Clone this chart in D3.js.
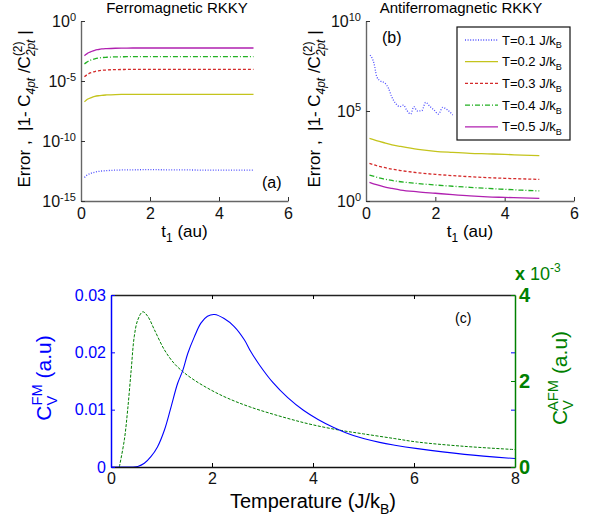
<!DOCTYPE html>
<html>
<head>
<meta charset="utf-8">
<script src="https://cdn.jsdelivr.net/npm/d3@7"></script>
<style>
  body { margin: 0; background: #fff; }
  svg text { font-family: "Liberation Sans", Arial, sans-serif; white-space: pre; }
</style>
</head>
<body>
<svg id="fig" width="595" height="525"></svg>
<script>
// ---- panel (a): ferromagnetic RKKY, log10 of the error ----
const tFerro = [0.1, 0.15, 0.2, 0.3, 0.4, 0.5, 0.6, 0.75, 1, 1.25, 1.5, 2, 2.5, 3, 3.5, 4, 4.5, 5];
const ferroT01 = [-13.04, -12.9, -12.8, -12.68, -12.6, -12.54, -12.5, -12.47, -12.43, -12.41, -12.4, -12.39, -12.4, -12.41, -12.42, -12.42, -12.42, -12.42];
const ferroT02 = [-6.73, -6.6, -6.5, -6.38, -6.29, -6.23, -6.19, -6.16, -6.13, -6.12, -6.11, -6.11, -6.11, -6.11, -6.11, -6.11, -6.11, -6.11];
const ferroT03 = [-4.65, -4.53, -4.43, -4.3, -4.21, -4.15, -4.11, -4.08, -4.05, -4.04, -4.03, -4.03, -4.03, -4.03, -4.03, -4.03, -4.03, -4.03];
const ferroT04 = [-3.59, -3.47, -3.37, -3.24, -3.15, -3.09, -3.05, -3.02, -2.99, -2.98, -2.97, -2.97, -2.97, -2.97, -2.97, -2.97, -2.97, -2.97];
const ferroT05 = [-2.9, -2.78, -2.67, -2.54, -2.44, -2.38, -2.33, -2.3, -2.27, -2.26, -2.25, -2.25, -2.25, -2.25, -2.25, -2.25, -2.25, -2.25];

// ---- panel (b): antiferromagnetic RKKY, log10 of the error ----
const tAnti = [0.1, 0.3, 0.5, 0.75, 1, 1.5, 2, 2.5, 3, 3.5, 4, 4.5, 5];
const tAntiT01 = [0.12, 0.23, 0.31, 0.4, 0.55, 0.65, 0.74, 0.87, 0.98, 1.08, 1.17, 1.29, 1.38, 1.48, 1.61, 1.72, 1.85, 1.96, 2.09, 2.21, 2.35, 2.5];
const antiT01 = [8.11, 7.65, 6.91, 6.69, 6.54, 6.26, 5.8, 5.39, 5.24, 5.33, 5.06, 4.83, 5.24, 5.0, 5.02, 5.48, 5.24, 5.06, 4.83, 5.2, 5.06, 4.78];
const antiT02 = [3.48, 3.36, 3.25, 3.12, 3.03, 2.87, 2.76, 2.7, 2.65, 2.62, 2.59, 2.55, 2.52];
const antiT03 = [2.09, 1.97, 1.87, 1.77, 1.69, 1.57, 1.48, 1.41, 1.35, 1.3, 1.26, 1.23, 1.2];
const antiT04 = [1.44, 1.33, 1.23, 1.14, 1.07, 0.97, 0.89, 0.82, 0.76, 0.7, 0.65, 0.6, 0.56];
const antiT05 = [1.04, 0.91, 0.8, 0.7, 0.61, 0.51, 0.43, 0.35, 0.28, 0.23, 0.2, 0.17, 0.15];

const legendLabels = ["0.1", "0.2", "0.3", "0.4", "0.5"];
const timeTicks = [0, 2, 4, 6];

// ---- panel (c): specific heat ----
const tempFM = [0, 0.4, 0.53, 0.66, 0.79, 0.92, 1.06, 1.19, 1.32, 1.42, 1.52, 1.65, 1.78, 1.91, 2.05, 2.24, 2.44, 2.64, 2.77, 2.94, 3.2, 3.5, 3.81, 4.1, 4.41, 4.8, 5.32, 5.62, 6.07, 7.0, 8.0];
const cvFM = [0, 0, 0.0001, 0.00065, 0.0018, 0.0035, 0.0065, 0.0105, 0.0146, 0.0168, 0.0198, 0.0227, 0.0251, 0.0263, 0.0266, 0.0259, 0.0245, 0.0222, 0.0201, 0.0178, 0.0148, 0.0121, 0.0099, 0.0083, 0.0069, 0.0055, 0.0043, 0.0038, 0.0032, 0.0022, 0.00147];
const tempAFM = [0.165, 0.264, 0.33, 0.4, 0.46, 0.53, 0.63, 0.73, 0.86, 1.06, 1.25, 1.42, 1.65, 1.98, 2.31, 2.77, 3.5, 4.0, 4.56, 5.0, 5.62, 6.07, 7.0, 8.0];
const cvAFM = [0, 0.63, 1.33, 2.26, 3.03, 3.42, 3.61, 3.5, 3.19, 2.72, 2.41, 2.22, 2.02, 1.79, 1.6, 1.39, 1.13, 0.98, 0.85, 0.77, 0.66, 0.58, 0.48, 0.405]; // x 1e-3
const tempTicks = [0, 2, 4, 6, 8];
const cvFMTicks = [0, 0.01, 0.02, 0.03];
const cvAFMTicks = [0, 2, 4];

const colors = ["#5050ff", "#c4c41c", "#d42a2a", "#22b022", "#b020b0"];
const dashes = ["1,1.6", null, "3,2", "5,2,1,2", null];

const svg = d3.select("#fig");

// add a run of tspans: [text, "n" | "sub" | "sup", {italic, stack}]
// stack = draw under/over the previous piece instead of after it
function rich(textSel, parts, size) {
  let shift = 0, prevLen = 0, carry = 0;
  parts.forEach(([s, kind, extra]) => {
    extra = extra || {};
    const target = kind === "sub" ? 0.3 * size : kind === "sup" ? -0.45 * size : 0;
    const ts = textSel.append("tspan").attr("dy", target - shift).text(s);
    if (kind !== "n") ts.style("font-size", (0.7 * size) + "px");
    if (extra.italic) ts.style("font-style", "italic");
    const len = ts.node().getComputedTextLength();
    if (extra.stack) {
      ts.attr("dx", -prevLen);
      carry = Math.max(0, prevLen - len);
    } else {
      if (carry) ts.attr("dx", carry);
      carry = 0;
    }
    prevLen = len;
    shift = target;
  });
}

function errorPanel(p) {
  const x = d3.scaleLinear().domain([0, 6]).range([p.left, p.right]);
  const y = d3.scaleLog().domain(p.yDomain).range([p.bottom, p.top]);

  const xAxis = svg.append("g").attr("transform", `translate(0,${p.bottom})`)
    .call(d3.axisBottom(x).tickValues(timeTicks).tickFormat(d3.format("d"))
      .tickSizeInner(-4).tickSizeOuter(0).tickPadding(7));
  const yAxis = svg.append("g").attr("transform", `translate(${p.left},0)`)
    .call(d3.axisLeft(y).tickValues(p.yTicks).tickSizeInner(-4).tickSizeOuter(0).tickPadding(5));
  [xAxis, yAxis].forEach(g => {
    g.select(".domain").attr("stroke", "#666").attr("stroke-width", 1.4);
    g.selectAll(".tick line").attr("stroke", "#333");
    g.selectAll("text").style("font-size", "16px").attr("fill", "#111");
  });
  yAxis.selectAll(".tick text").each(function(d) {
    const t = d3.select(this).text("10");
    t.append("tspan").attr("dy", "-0.5em").style("font-size", "11px").text(Math.round(Math.log10(d)));
  });

  const line = d3.line().x(d => x(d[0])).y(d => y(Math.pow(10, d[1]))).curve(d3.curveMonotoneX);
  p.series.forEach((s, i) => {
    svg.append("path").datum(d3.zip(s.t, s.v)).attr("d", line)
      .attr("fill", "none").attr("stroke", colors[i]).attr("stroke-width", 1.3)
      .attr("stroke-dasharray", dashes[i]);
  });

  svg.append("text").attr("x", p.titleX).attr("y", 13).attr("text-anchor", "middle")
    .style("font-size", "15px").text(p.title);

  const yl = svg.append("text").attr("transform", `translate(${p.ylabelX},${(p.top + p.bottom) / 2 - 2}) rotate(-90)`)
    .attr("text-anchor", "middle").style("font-size", "17px");
  rich(yl, [["Error ,  |1- C", "n"], ["4pt", "sub", {italic: true}], [" /C", "n"], ["(2)", "sup"],
            ["2pt", "sub", {italic: true, stack: true}], [" |", "n"]], 17);

  const xl = svg.append("text").attr("x", (p.left + p.right) / 2).attr("y", 237)
    .attr("text-anchor", "middle").style("font-size", "17px");
  rich(xl, [["t", "n"], ["1", "sub"], [" (au)", "n"]], 17);

  svg.append("text").attr("x", p.tagX).attr("y", p.tagY).style("font-size", "16px").text(p.tag);
  return {x, y};
}

errorPanel({
  left: 81, right: 288, top: 21, bottom: 201,
  yDomain: [1e-15, 1], yTicks: [1e-15, 1e-10, 1e-5, 1],
  title: "Ferromagnetic RKKY", titleX: 177, ylabelX: 30, tag: "(a)", tagX: 262, tagY: 188,
  series: [ferroT01, ferroT02, ferroT03, ferroT04, ferroT05].map(v => ({t: tFerro, v}))
});

errorPanel({
  left: 366, right: 574, top: 21, bottom: 201,
  yDomain: [1, 1e10], yTicks: [1, 1e5, 1e10],
  title: "Antiferromagnetic RKKY", titleX: 461, ylabelX: 320, tag: "(b)", tagX: 382, tagY: 43,
  series: [{t: tAntiT01, v: antiT01}].concat([antiT02, antiT03, antiT04, antiT05].map(v => ({t: tAnti, v})))
});

// legend of panel (b)
const leg = svg.append("g");
leg.append("rect").attr("x", 457).attr("y", 27).attr("width", 113).attr("height", 113)
  .attr("fill", "#fff").attr("stroke", "#111").attr("stroke-width", 1.2);
legendLabels.forEach((lab, i) => {
  const yy = 40 + i * 21.7;
  leg.append("line").attr("x1", 465).attr("x2", 498).attr("y1", yy).attr("y2", yy)
    .attr("stroke", colors[i]).attr("stroke-width", 1.3).attr("stroke-dasharray", dashes[i]);
  const t = leg.append("text").attr("x", 502).attr("y", yy + 4.5).style("font-size", "13px");
  rich(t, [["T=" + lab + " J/k", "n"], ["B", "sub"]], 13);
});

// ---- panel (c) ----
const xc = d3.scaleLinear().domain([0, 8]).range([111, 515]);
const yFM = d3.scaleLinear().domain([0, 0.03]).range([467, 295]);
const yAFM = d3.scaleLinear().domain([0, 4]).range([467, 295]);
const blue = "#0000ff", green = "#008000";

const lineFM = d3.line().x((d, i) => xc(tempFM[i])).y(d => yFM(d)).curve(d3.curveCatmullRom.alpha(0.5));
const lineAFM = d3.line().x((d, i) => xc(tempAFM[i])).y(d => yAFM(d)).curve(d3.curveCatmullRom.alpha(0.5));
svg.append("path").datum(cvAFM).attr("d", lineAFM).attr("fill", "none")
  .attr("stroke", green).attr("stroke-width", 1).attr("stroke-dasharray", "3,1.5");
svg.append("path").datum(cvFM).attr("d", lineFM).attr("fill", "none")
  .attr("stroke", blue).attr("stroke-width", 1.1);

const topAx = svg.append("g").attr("transform", "translate(0,295)")
  .call(d3.axisTop(xc).tickValues([2, 4, 6]).tickFormat("").tickSizeInner(-4).tickSizeOuter(0));
topAx.select(".domain").attr("stroke", "#222").attr("stroke-width", 1.3);
const botAx = svg.append("g").attr("transform", "translate(0,467)")
  .call(d3.axisBottom(xc).tickValues(tempTicks).tickFormat(d3.format("d"))
    .tickSizeInner(-4).tickSizeOuter(0).tickPadding(6));
botAx.select(".domain").attr("stroke", "#111").attr("stroke-width", 1.5);
botAx.selectAll("text").style("font-size", "16px").attr("fill", "#111");

const leftAx = svg.append("g").attr("transform", "translate(111,0)")
  .call(d3.axisLeft(yFM).tickValues(cvFMTicks).tickSizeInner(-4).tickSizeOuter(0).tickPadding(5)
    .tickFormat(d => d === 0 ? "0" : d3.format(".2f")(d)));
leftAx.select(".domain").attr("stroke", blue).attr("stroke-width", 1.5);
leftAx.selectAll(".tick line").attr("stroke", blue);
leftAx.selectAll("text").style("font-size", "16px").attr("fill", blue);

const rightBlue = svg.append("g").attr("transform", "translate(515,0)")
  .call(d3.axisRight(yFM).tickValues([0.01, 0.02]).tickFormat("").tickSizeInner(-4).tickSizeOuter(0));
rightBlue.select(".domain").remove();
rightBlue.selectAll(".tick line").attr("stroke", blue);

const rightAx = svg.append("g").attr("transform", "translate(515,0)")
  .call(d3.axisRight(yAFM).tickValues(cvAFMTicks).tickFormat(d3.format("d"))
    .tickSizeInner(-4).tickSizeOuter(0).tickPadding(4));
rightAx.select(".domain").attr("stroke", green).attr("stroke-width", 1.5);
rightAx.selectAll(".tick line").attr("stroke", green);
rightAx.selectAll("text").style("font-size", "20px").style("font-weight", "bold").attr("fill", green);

const expo = svg.append("text").attr("x", 515).attr("y", 280).attr("fill", green).style("font-size", "18px");
expo.append("tspan").style("font-weight", "bold").text("x");
expo.append("tspan").text(" 10");
expo.append("tspan").attr("dy", -8).style("font-size", "12px").text("-3");

const ylc = svg.append("text").attr("transform", "translate(51,378) rotate(-90)")
  .attr("text-anchor", "middle").attr("fill", blue).style("font-size", "21px");
rich(ylc, [["C", "n"], ["V", "sub"], ["FM", "sup", {stack: true}], [" (a.u)", "n"]], 21);

const yrc = svg.append("text").attr("transform", "translate(567,378) rotate(-90)")
  .attr("text-anchor", "middle").attr("fill", green).style("font-size", "21px");
rich(yrc, [["C", "n"], ["V", "sub"], ["AFM", "sup", {stack: true}], [" (a.u)", "n"]], 21);

const xlc = svg.append("text").attr("x", 313).attr("y", 508).attr("text-anchor", "middle").style("font-size", "20px");
rich(xlc, [["Temperature (J/k", "n"], ["B", "sub"], [")", "n"]], 20);

svg.append("text").attr("x", 455).attr("y", 323).style("font-size", "14px").text("(c)");
</script>
</body>
</html>
